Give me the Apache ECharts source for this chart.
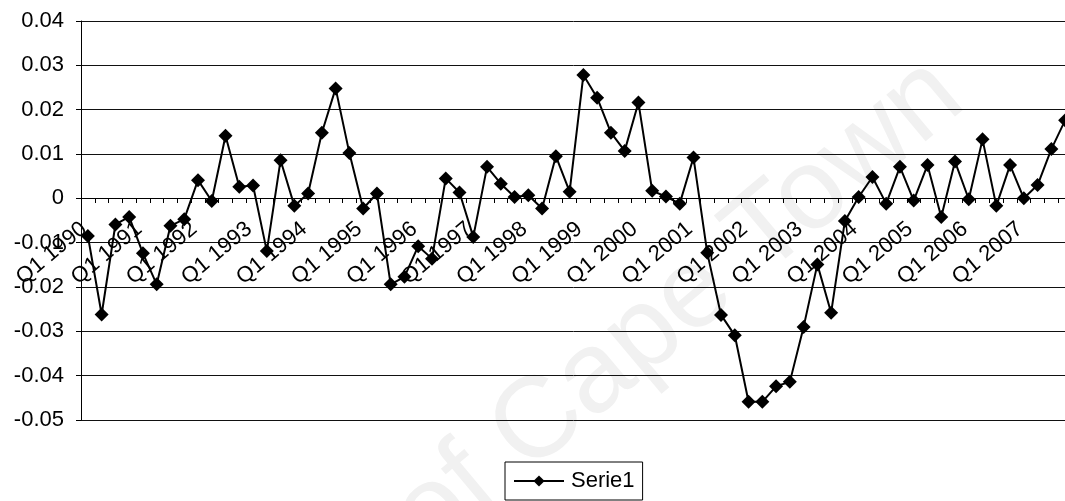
<!DOCTYPE html>
<html>
<head>
<meta charset="utf-8">
<script src="https://cdn.jsdelivr.net/npm/echarts@6/dist/echarts.min.js"></script>
<style>
  html, body { margin: 0; padding: 0; background: #fff; }
  #chart { width: 1065px; height: 501px; }
</style>
</head>
<body>
<div id="chart"></div>
<script>
// Quarterly series, Q1 1990 .. Q4 2007
const years = [1990, 1991, 1992, 1993, 1994, 1995, 1996, 1997, 1998,
               1999, 2000, 2001, 2002, 2003, 2004, 2005, 2006, 2007];
const quarters = ['Q1', 'Q2', 'Q3', 'Q4'];

const serie1 = [
  -0.0085, -0.0262, -0.0059, -0.0042, -0.0124, -0.0194, -0.0062, -0.0047,
   0.0041, -0.0006,  0.0141,  0.0026,  0.0029, -0.0119,  0.0086, -0.0017,
   0.0011,  0.0148,  0.0248,  0.0102, -0.0023,  0.0011, -0.0194, -0.0177,
  -0.0108, -0.0136,  0.0045,  0.0013, -0.0087,  0.0071,  0.0033,  0.0003,
   0.0007, -0.0023,  0.0095,  0.0015,  0.0278,  0.0227,  0.0148,  0.0107,
   0.0216,  0.0017,  0.0004, -0.0012,  0.0092, -0.0123, -0.0263, -0.0309,
  -0.0459, -0.0459, -0.0424, -0.0414, -0.0290, -0.0149, -0.0258, -0.0051,
   0.0003,  0.0048, -0.0012,  0.0071, -0.0005,  0.0075, -0.0042,  0.0083,
  -0.0002,  0.0133, -0.0017,  0.0075,  0.0000,  0.0030,  0.0111,  0.0176
];

const yTicks = { min: -0.05, max: 0.04, step: 0.01 };
const seriesName = 'Serie1';
const watermark = 'University of Cape Town';

const categories = [];
years.forEach(function (y) {
  quarters.forEach(function (q) { categories.push(q + ' ' + y); });
});

const FONT = '"Liberation Sans", Arial, sans-serif';

const chart = echarts.init(document.getElementById('chart'), null, { renderer: 'canvas' });

chart.setOption({
  animation: false,
  backgroundColor: '#ffffff',
  graphic: [{
    type: 'text',
    x: 985,
    y: 125,
    rotation: 40 * Math.PI / 180,
    silent: true,
    z: -10,
    style: {
      text: watermark,
      font: '115px ' + FONT,
      fill: '#f1f1f1',
      align: 'right',
      verticalAlign: 'bottom'
    }
  }],
  grid: {
    left: 81,
    right: -7,
    top: 21,
    bottom: 81,
    containLabel: false,
    outerBoundsMode: 'none'
  },
  legend: {
    data: [seriesName],
    left: 505,
    top: 462,
    orient: 'horizontal',
    itemWidth: 50,
    itemHeight: 14,
    itemGap: 10,
    padding: [8, 8, 8, 8],
    borderColor: '#000',
    borderWidth: 1,
    textStyle: { color: '#000', fontSize: 22, fontFamily: FONT, padding: [0, 0, 0, 2] }
  },
  xAxis: {
    type: 'category',
    data: categories,
    boundaryGap: true,
    offset: 0,
    axisLine: { show: true, onZero: false, lineStyle: { color: '#000', width: 1 } },
    axisTick: { show: true, interval: 0, length: 5, lineStyle: { color: '#000', width: 1 } },
    axisLabel: {
      interval: 3,
      rotate: 40,
      margin: 25,
      color: '#000',
      fontSize: 22,
      fontFamily: FONT,
      padding: [0, 5, 0, 0]
    },
    splitLine: { show: false }
  },
  yAxis: {
    type: 'value',
    min: yTicks.min,
    max: yTicks.max,
    interval: yTicks.step,
    axisLine: { show: true, lineStyle: { color: '#000', width: 1 } },
    axisTick: { show: true, length: 5, lineStyle: { color: '#000', width: 1 } },
    axisLabel: {
      margin: 17,
      color: '#000',
      fontSize: 22,
      fontFamily: FONT,
      formatter: function (v) { return String(Math.round(v * 100) / 100); }
    },
    splitLine: { show: true, lineStyle: { color: '#111', width: 1 } }
  },
  series: [{
    name: seriesName,
    type: 'line',
    data: serie1,
    color: '#000',
    symbol: 'diamond',
    symbolSize: 14,
    showSymbol: true,
    showAllSymbol: true,
    lineStyle: { color: '#000', width: 2 },
    itemStyle: { color: '#000' }
  }]
});

// Move the category axis (line, ticks and labels) up to the zero line of the value axis.
const zeroY = chart.convertToPixel({ yAxisIndex: 0 }, 0);
const bottomY = chart.convertToPixel({ yAxisIndex: 0 }, yTicks.min);
chart.setOption({ xAxis: { offset: Math.round(zeroY - bottomY) } });
</script>
</body>
</html>
